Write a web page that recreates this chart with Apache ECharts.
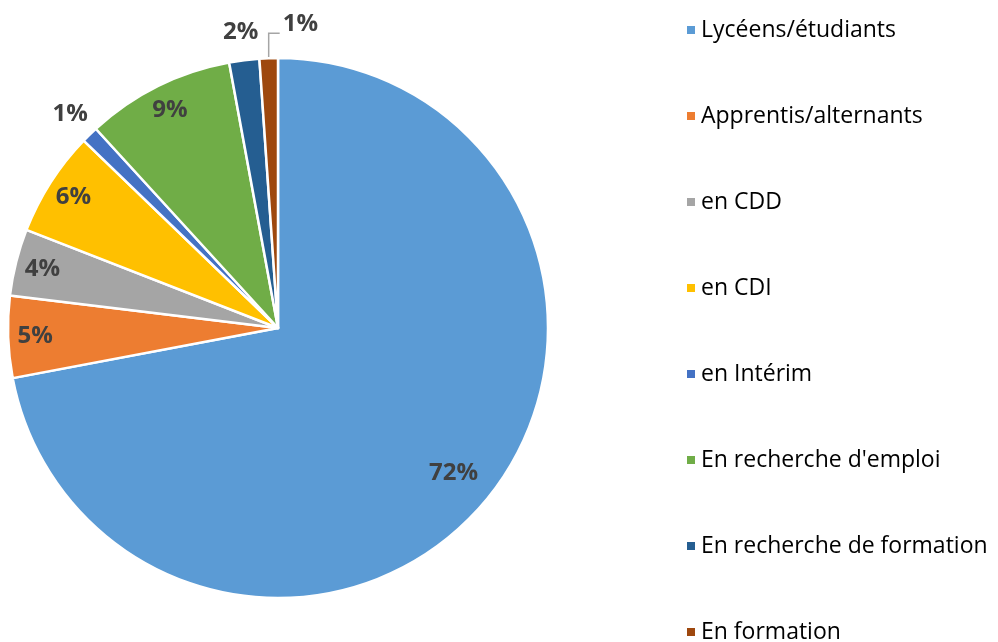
<!DOCTYPE html>
<html>
<head>
<meta charset="utf-8">
<script src="https://cdn.jsdelivr.net/npm/echarts@6/dist/echarts.min.js"></script>
<style>
  html, body { margin: 0; padding: 0; background: #fff; }
  #main { width: 998px; height: 642px; }
</style>
</head>
<body>
<div id="main"></div>
<script>
// Situation categories and their shares (%)
var categories = ['Lycéens/étudiants', 'Apprentis/alternants', 'en CDD', 'en CDI', 'en Intérim',
  'En recherche d\'emploi', 'En recherche de formation', 'En formation'];
var shares = [72.1, 4.9, 4.0, 6.3, 1.0, 8.9, 1.8, 1.1];
var colors = ['#5B9BD5', '#ED7D31', '#A5A5A5', '#FFC000', '#4472C4', '#70AD47', '#255E91', '#9E480E'];

// which labels go where: inside the slice, just outside, or with a leader line
var bigLabels = [0];
var insideLabels = [1, 2, 3, 5];
var outsideLabels = [4, 6];
var leaderLabels = [7];

var labelFont = { fontFamily: 'Open Sans', fontWeight: 'bold', fontSize: 24, color: '#404040' };
function pct(p) { return Math.round(p.value) + '%'; }

function buildData(showList, transparent) {
  return categories.map(function (name, i) {
    return {
      name: name,
      value: shares[i],
      itemStyle: transparent ? { color: 'rgba(0,0,0,0)', borderWidth: 0 } : { color: colors[i] },
      label: { show: showList.indexOf(i) >= 0 }
    };
  });
}

// transparent ring used only to place labels at a given radius
function labelRing(name, radius, showList) {
  return {
    name: name,
    type: 'pie',
    center: [278, 328],
    radius: radius,
    startAngle: 90,
    clockwise: true,
    silent: true,
    avoidLabelOverlap: false,
    label: Object.assign({ position: 'inside', formatter: pct }, labelFont),
    labelLine: { show: false },
    emphasis: { disabled: true },
    data: buildData(showList, true)
  };
}

var myChart = echarts.init(document.getElementById('main'));

var option = {
  animation: false,
  legend: {
    orient: 'vertical',
    left: 680,
    top: 13,
    height: 700,
    itemWidth: 10,
    itemHeight: 10,
    itemGap: 62,
    icon: 'rect',
    data: categories,
    textStyle: { fontFamily: 'Open Sans', fontSize: 23, color: '#000', lineHeight: 24 }
  },
  series: [
    {
      name: 'main',
      type: 'pie',
      center: [278, 328],
      radius: [0, 270],
      startAngle: 90,
      clockwise: true,
      avoidLabelOverlap: false,
      itemStyle: { borderColor: '#fff', borderWidth: 2.5 },
      label: Object.assign({ position: 'outside', formatter: pct }, labelFont),
      labelLine: { show: true, length: 20, length2: 10, lineStyle: { color: '#A5A5A5', width: 1.5 } },
      labelLayout: function (p) {
        if (p.dataIndex !== 7 || !p.labelLinePoints) return {};
        var a = p.labelLinePoints[0];
        var top = a[1] - 25;
        return {
          x: a[0] + 14, y: top - 9, align: 'left', verticalAlign: 'middle',
          labelLinePoints: [[a[0], a[1]], [a[0], top], [a[0] + 11, top]]
        };
      },
      emphasis: { disabled: true },
      data: buildData(leaderLabels, false)
    },
    labelRing('labels-big', [180, 270], bigLabels),
    labelRing('labels-in', [210, 270], insideLabels),
    labelRing('labels-out', [265, 325], outsideLabels)
  ]
};

myChart.setOption(option);
</script>
</body>
</html>
